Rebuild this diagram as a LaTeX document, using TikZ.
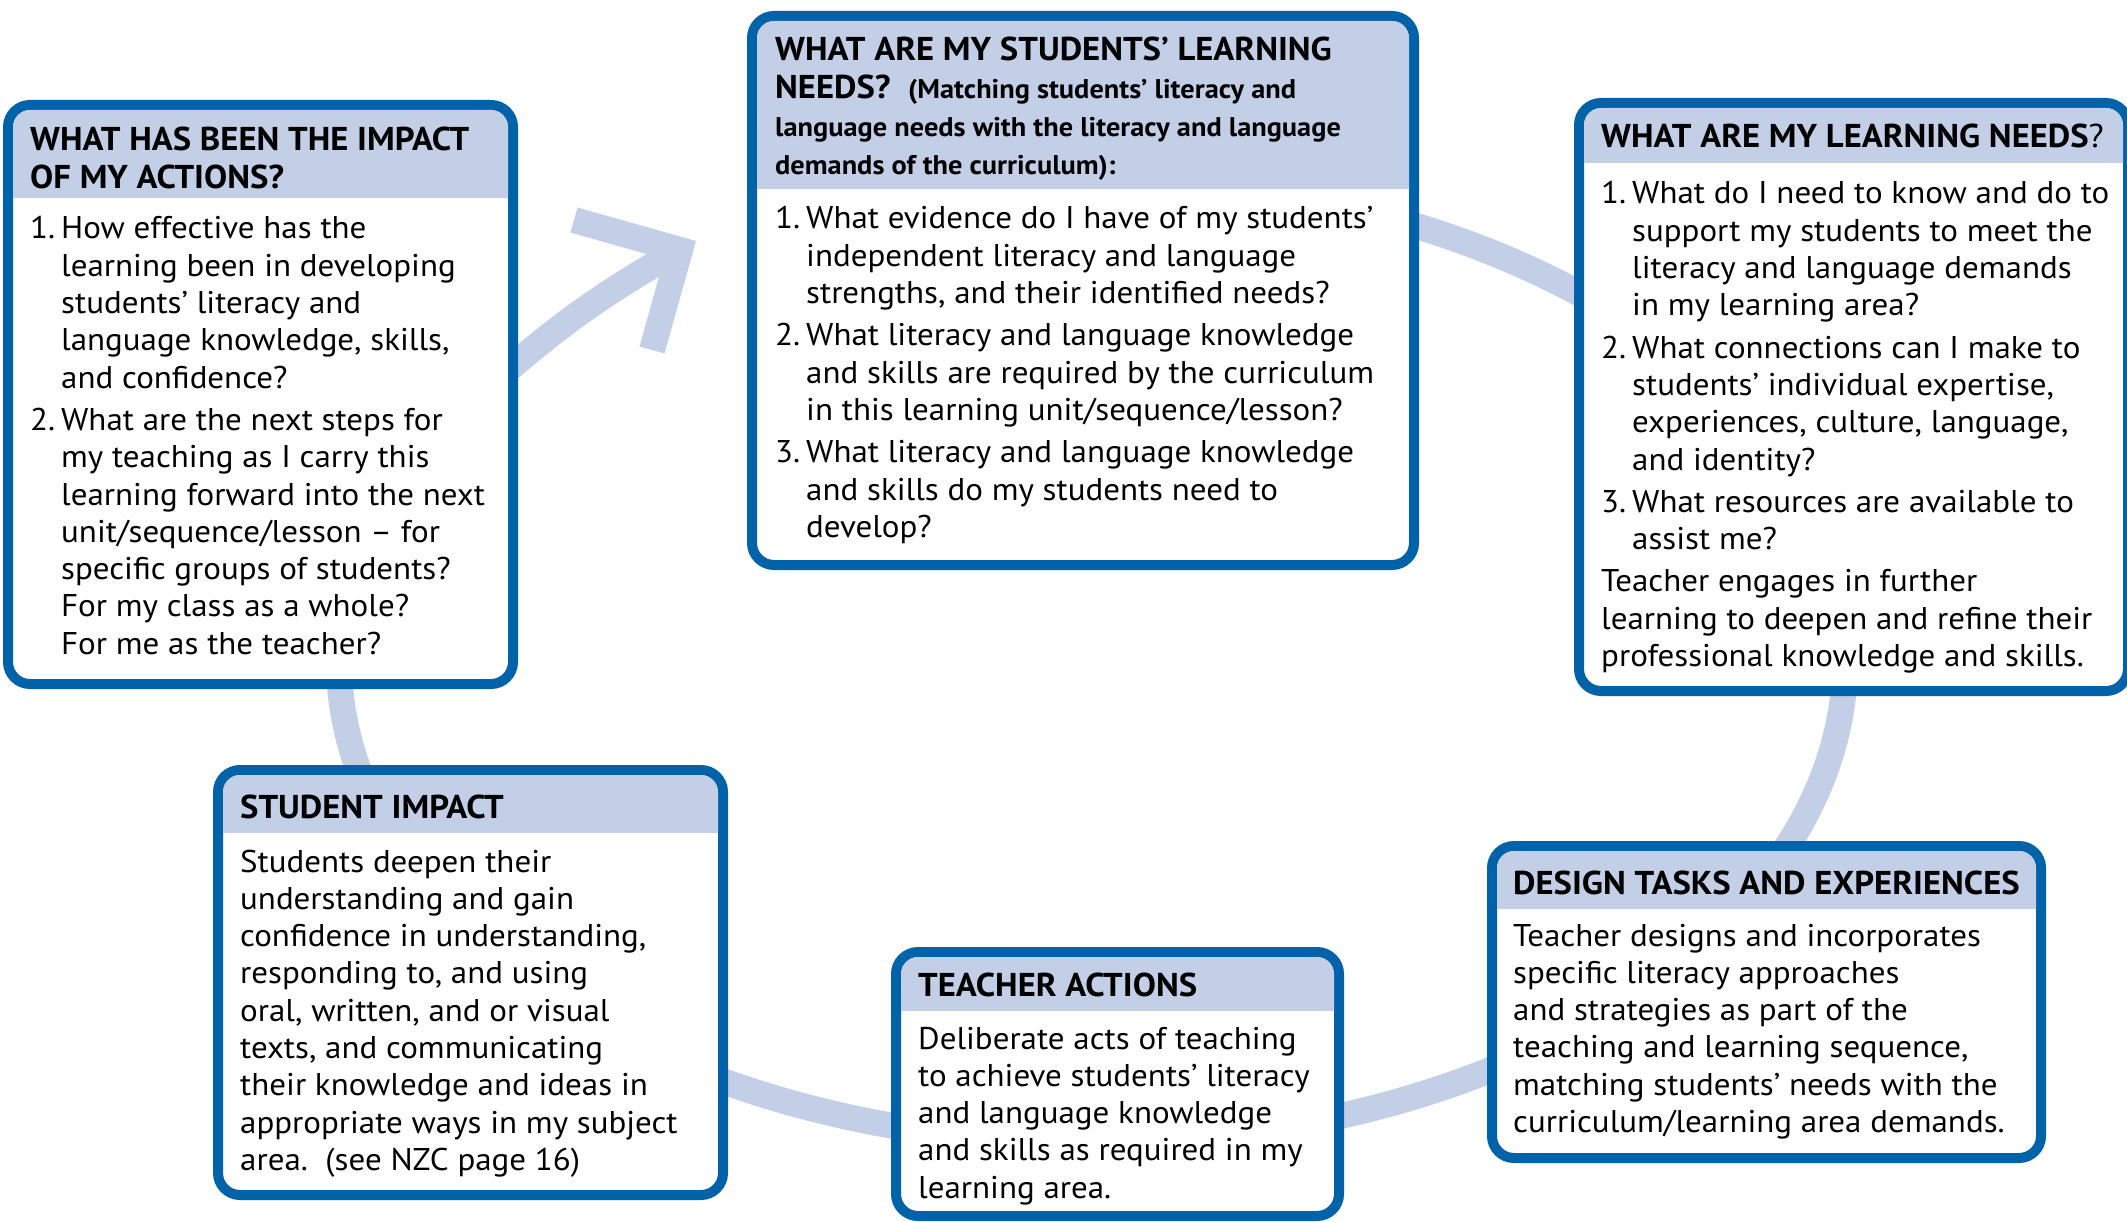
\documentclass[tikz,border=0pt]{standalone}
\usepackage{fontspec}
\setmainfont{PT Sans}[FakeStretch=1.05]
\usetikzlibrary{calc}
\definecolor{bord}{HTML}{0062A8}
\definecolor{hdr}{HTML}{C3CFE6}
\definecolor{arcc}{HTML}{C3CFE6}
\newcommand\bodyfont{\fontsize{31.4}{37.3}\selectfont}
\newcommand\hdrfont{\fontsize{33}{38}\selectfont\bfseries}
\newcommand\subhdrfont{\fontsize{27}{38}\selectfont\bfseries}
\newcommand\nm[1]{\makebox[31pt][l]{#1}}
\newcommand\ind{\hspace*{31pt}}
\newcommand\gap{\\[5pt]}
\newcommand\cbox[6]{%
  \node[cbx, minimum width={#4pt-#2pt-10pt}, minimum height={#5pt-#3pt-10pt}] (#1) at (#2+5,-#3-5) {};
  \begin{scope}
    \clip[rounded corners=17pt] (#2+10,-#3-10) rectangle (#4-10,-#5+10);
    \fill[hdr] (#2,-#3) rectangle (#4,-#6);
  \end{scope}}
\tikzset{
  conn/.style={draw=arcc, line width=26pt},
  cbx/.style={draw=bord, line width=10pt, fill=white, rounded corners=22pt, rectangle, inner sep=0pt, outer sep=0pt, anchor=north west},
  txt/.style={anchor=base west, inner sep=0pt, text=black},
}
\begin{document}
\begin{tikzpicture}[x=1pt,y=1pt]
\useasboundingbox (0,0) rectangle (2127,-1222);
\clip (0,0) rectangle (2127,-1222);
% connectors (one elliptical cycle)
\coordinate (ctr) at (1092,-661);
\coordinate (eB) at ($(ctr)+(90:753pt and 482pt)$);
\coordinate (eC) at ($(ctr)+(20:753pt and 482pt)$);
\coordinate (eF) at ($(ctr)+(-40:753pt and 482pt)$);
\coordinate (eE) at ($(ctr)+(-90:753pt and 482pt)$);
\coordinate (eD) at ($(ctr)+(-125:753pt and 482pt)$);
\draw[conn] (eB) arc[start angle=90, end angle=20, x radius=753pt, y radius=482pt];
\draw[conn] (eC) arc[start angle=20, end angle=-40, x radius=753pt, y radius=482pt];
\draw[conn] (eF) arc[start angle=-40, end angle=-90, x radius=753pt, y radius=482pt];
\draw[conn] (eE) arc[start angle=-90, end angle=-125, x radius=753pt, y radius=482pt];
\draw[conn] (eD) arc[start angle=-125, end angle=-200, x radius=753pt, y radius=482pt];
% arrow from A to B
\coordinate (pA) at (440,-430);
\coordinate (tip) at (680,-250);
\coordinate (armA) at (574,-220);
\coordinate (armB) at (652,-350);
\draw[conn] (pA) to[out=42,in=209] (tip);
\draw[conn, line join=miter, miter limit=10] (armA) -- (tip) -- (armB);
% boxes
\cbox{nA}{3}{100}{518}{689}{198}
\cbox{nB}{747}{11}{1419}{570}{189}
\cbox{nC}{1574}{98}{2133}{696}{163}
\cbox{nD}{213}{765}{728}{1200}{833}
\cbox{nE}{891}{947}{1344}{1221}{1011}
\cbox{nF}{1487}{841}{2046}{1163}{909}
% Box A
\node[txt] (hA) at (30,-151) {\parbox[t]{480pt}{\hdrfont WHAT HAS BEEN THE IMPACT\\OF MY ACTIONS?}};
\node[txt] (tA) at (30,-239) {\parbox[t]{480pt}{\bodyfont
\nm{1.}How effective has the\\
\ind learning been in developing\\
\ind students’ literacy and\\
\ind language knowledge, skills,\\
\ind and confidence?\gap
\nm{2.}What are the next steps for\\
\ind my teaching as I carry this\\
\ind learning forward into the next\\
\ind unit/sequence/lesson – for\\
\ind specific groups of students?\\
\ind For my class as a whole?\\
\ind For me as the teacher?}};
% Box B
\node[txt] (hB) at (775,-61) {\parbox[t]{640pt}{\hdrfont WHAT ARE MY STUDENTS’ LEARNING\\
NEEDS?\ \ {\subhdrfont (Matching students’ literacy and}\\
{\subhdrfont language needs with the literacy and language}\\
{\subhdrfont demands of the curriculum):}}};
\node[txt] (tB) at (775,-229) {\parbox[t]{640pt}{\bodyfont
\nm{1.}What evidence do I have of my students’\\
\ind independent literacy and language\\
\ind strengths, and their identified needs?\gap
\nm{2.}What literacy and language knowledge\\
\ind and skills are required by the curriculum\\
\ind in this learning unit/sequence/lesson?\gap
\nm{3.}What literacy and language knowledge\\
\ind and skills do my students need to\\
\ind develop?}};
% Box C
\node[txt] (hC) at (1601,-148) {\parbox[t]{600pt}{\hdrfont WHAT ARE MY LEARNING NEEDS{\mdseries ?}}};
\node[txt] (tC) at (1601,-204) {\parbox[t]{600pt}{\bodyfont
\nm{1.}What do I need to know and do to\\
\ind support my students to meet the\\
\ind literacy and language demands\\
\ind in my learning area?\gap
\nm{2.}What connections can I make to\\
\ind students’ individual expertise,\\
\ind experiences, culture, language,\\
\ind and identity?\gap
\nm{3.}What resources are available to\\
\ind assist me?\gap
Teacher engages in further\\
learning to deepen and refine their\\
professional knowledge and skills.}};
% Box D
\node[txt] (hD) at (240,-818) {\hdrfont STUDENT IMPACT};
\node[txt] (tD) at (240,-872) {\parbox[t]{480pt}{\bodyfont
Students deepen their\\
understanding and gain\\
confidence in understanding,\\
responding to, and using\\
oral, written, and or visual\\
texts, and communicating\\
their knowledge and ideas in\\
appropriate ways in my subject\\
area.\ \ (see NZC page 16)}};
% Box E
\node[txt] (hE) at (918,-996) {\hdrfont TEACHER ACTIONS};
\node[txt] (tE) at (918,-1049) {\parbox[t]{420pt}{\bodyfont
Deliberate acts of teaching\\
to achieve students’ literacy\\
and language knowledge\\
and skills as required in my\\
learning area.}};
% Box F
\node[txt] (hF) at (1513,-894) {\hdrfont DESIGN TASKS AND EXPERIENCES};
\node[txt] (tF) at (1513,-946) {\parbox[t]{520pt}{\bodyfont
Teacher designs and incorporates\\
specific literacy approaches\\
and strategies as part of the\\
teaching and learning sequence,\\
matching students’ needs with the\\
curriculum/learning area demands.}};
\end{tikzpicture}
\end{document}
